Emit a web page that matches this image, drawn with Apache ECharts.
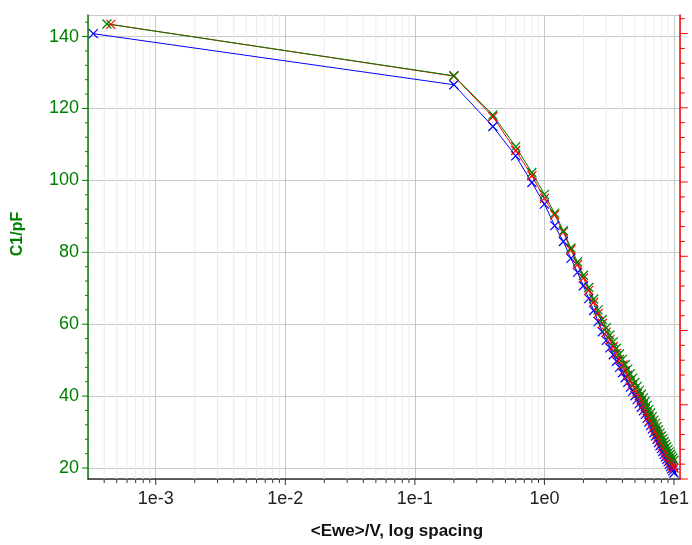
<!DOCTYPE html>
<html>
<head>
<meta charset="utf-8">
<script src="https://cdn.jsdelivr.net/npm/echarts@6/dist/echarts.min.js"></script>
<style>
  html, body { margin: 0; padding: 0; background: #fff; }
  #chart { width: 692px; height: 545px; }
</style>
</head>
<body>
<div id="chart"></div>
<script>
// potential steps (V) shared by the three sweeps
var potential = [0.2, 0.4, 0.6, 0.8, 1.0, 1.2, 1.4, 1.6, 1.8, 2.0,
  2.2, 2.4, 2.6, 2.8, 3.0, 3.2, 3.4, 3.6, 3.8, 4.0,
  4.2, 4.4, 4.6, 4.8, 5.0, 5.2, 5.4, 5.6, 5.8, 6.0,
  6.2, 6.4, 6.6, 6.8, 7.0, 7.2, 7.4, 7.6, 7.8, 8.0,
  8.2, 8.4, 8.6, 8.8, 9.0, 9.2, 9.4, 9.6, 9.8, 10.0]

// first point of each sweep sits near 0 V
var greenStart = [4.2e-4, 143.5]
var redStart = [4.5e-4, 143.4]
var blueStart = [3.3e-4, 140.8]

var greenC1 = [129.1, 118.2, 109.4, 102.2, 96.1, 90.9, 86.0, 81.2, 77.3, 73.6,
  70.2, 67.0, 64.0, 61.3, 59.0, 57.0, 55.1, 53.3, 51.7, 50.2,
  48.8, 47.5, 46.2, 45.0, 43.8, 42.7, 41.6, 40.5, 39.5, 38.5,
  37.4, 36.3, 35.3, 34.3, 33.3, 32.4, 31.5, 30.6, 29.7, 28.9,
  28.1, 27.3, 26.6, 25.9, 25.2, 24.5, 23.9, 23.3, 22.7, 22.1]
var redC1 = [129.0, 117.7, 108.3, 101.3, 95.0, 90.4, 85.6, 80.7, 76.6, 72.9,
  69.4, 66.1, 63.0, 60.2, 57.8, 55.7, 53.8, 51.9, 50.2, 48.6,
  47.1, 45.8, 44.4, 43.2, 42.0, 40.8, 39.7, 38.7, 37.6, 36.6,
  35.5, 34.4, 33.4, 32.4, 31.4, 30.5, 29.6, 28.7, 27.8, 27.0,
  26.2, 25.4, 24.6, 23.9, 23.2, 22.5, 21.9, 21.2, 20.6, 20.0]
var blueC1 = [126.6, 115.0, 106.8, 99.4, 93.4, 87.4, 83.0, 78.3, 74.4, 70.7,
  67.1, 63.8, 60.7, 57.9, 55.5, 53.4, 51.5, 49.7, 48.0, 46.5,
  45.1, 43.8, 42.5, 41.3, 40.1, 39.0, 37.9, 36.9, 35.9, 34.9,
  33.8, 32.8, 31.8, 30.8, 29.8, 28.9, 28.0, 27.1, 26.2, 25.4,
  24.6, 23.8, 23.1, 22.4, 21.7, 21.0, 20.4, 19.8, 19.2, 18.6]

// tick positions
var xMajorTicks = [1e-3, 1e-2, 1e-1, 1, 10]
var xMinorTicks = [4e-4, 5e-4, 6e-4, 7e-4, 8e-4, 9e-4,
  2e-3, 3e-3, 4e-3, 5e-3, 6e-3, 7e-3, 8e-3, 9e-3,
  2e-2, 3e-2, 4e-2, 5e-2, 6e-2, 7e-2, 8e-2, 9e-2,
  0.2, 0.3, 0.4, 0.5, 0.6, 0.7, 0.8, 0.9,
  2, 3, 4, 5, 6, 7, 8, 9]
var yMajorTicks = [20, 40, 60, 80, 100, 120, 140]
var yMinorTicks = [24, 28, 32, 36, 44, 48, 52, 56, 64, 68, 72, 76,
  84, 88, 92, 96, 104, 108, 112, 116, 124, 128, 132, 136, 144]
var rightMajorTicks = [0, 1, 2, 3, 4, 5, 6]
var rightMinorTicks = [0.2, 0.4, 0.6, 0.8, 1.2, 1.4, 1.6, 1.8, 2.2, 2.4, 2.6, 2.8,
  3.2, 3.4, 3.6, 3.8, 4.2, 4.4, 4.6, 4.8, 5.2, 5.4, 5.6, 5.8, 6.2]

var green = '#008000'
var red = '#ff0000'
var blue = '#0000ff'
var cross = 'path://M0,0L10,10M10,0L0,10'

function sweep (start, values) {
  var out = [start]
  for (var i = 0; i < potential.length; i++) {
    out.push([potential[i], values[i]])
  }
  return out
}

function lineSeries (name, color, data) {
  return {
    name: name,
    type: 'line',
    data: data,
    symbol: cross,
    symbolSize: 9,
    lineStyle: {color: color, width: 1},
    itemStyle: {color: color, borderColor: color, borderWidth: 1.2},
    z: 3
  }
}

// ticks along the bottom axis (minor ones also get a light grid line)
function xTicks (values, len, withGrid) {
  return {
    type: 'custom',
    silent: true,
    z: 1,
    data: values.map(function (v) { return [v, 50] }),
    renderItem: function (params, api) {
      var cs = params.coordSys
      var px = api.coord([api.value(0), api.value(1)])[0]
      var bottom = cs.y + cs.height
      var kids = []
      if (withGrid) {
        kids.push({type: 'line', shape: {x1: px, y1: cs.y, x2: px, y2: bottom},
          style: {stroke: '#ebebeb', lineWidth: 1}})
      }
      kids.push({type: 'line', shape: {x1: px, y1: bottom, x2: px, y2: bottom + len},
        style: {stroke: '#333', lineWidth: 1}})
      return {type: 'group', children: kids}
    }
  }
}

// ticks on a vertical axis, side = -1 left, 1 right
function yTicks (values, len, color, axisIndex, side) {
  return {
    type: 'custom',
    silent: true,
    z: 4,
    yAxisIndex: axisIndex,
    data: values.map(function (v) { return [1, v] }),
    renderItem: function (params, api) {
      var cs = params.coordSys
      var py = api.coord([api.value(0), api.value(1)])[1]
      var x0 = side < 0 ? cs.x : cs.x + cs.width
      return {type: 'line', shape: {x1: x0, y1: py, x2: x0 + side * len, y2: py},
        style: {stroke: color, lineWidth: 1}}
    }
  }
}

var option = {
  animation: false,
  textStyle: {fontFamily: 'Liberation Sans, Arial, sans-serif'},
  grid: {left: 88, right: 12, top: 15, bottom: 66},
  xAxis: {
    type: 'log',
    logBase: 10,
    min: 3e-4,
    max: 11.1,
    splitNumber: 5,
    axisLine: {lineStyle: {color: '#333', width: 1.5}},
    axisTick: {show: false},
    axisLabel: {
      color: '#222',
      fontSize: 18,
      margin: 11,
      formatter: function (v) {
        var e = Math.log(v) / Math.LN10
        if (Math.abs(e - Math.round(e)) > 1e-6) return ''
        return '1e' + Math.round(e)
      }
    },
    splitLine: {show: true, lineStyle: {color: '#c8c8c8'}},
    name: '<Ewe>/V, log spacing',
    nameLocation: 'middle',
    nameGap: 44,
    nameTextStyle: {color: '#111', fontSize: 17, fontWeight: 'bold', padding: [0, 0, 0, 26]}
  },
  yAxis: [
    {
      type: 'value',
      min: 16.94,
      max: 146,
      splitNumber: 6,
      axisLine: {show: true, lineStyle: {color: green, width: 1.5}},
      axisTick: {show: false},
      axisLabel: {
        color: green,
        fontSize: 18,
        margin: 9,
        formatter: function (v) { return v % 20 === 0 ? String(v) : '' }
      },
      splitLine: {lineStyle: {color: '#c8c8c8'}},
      name: 'C1/pF',
      nameLocation: 'middle',
      nameGap: 62,
      nameTextStyle: {color: green, fontSize: 16, fontWeight: 'bold', padding: [0, 0, 0, 26]}
    },
    {
      type: 'value',
      position: 'right',
      min: 0,
      max: 6.25,
      axisLine: {show: true, lineStyle: {color: red, width: 1.5}},
      axisTick: {show: false},
      axisLabel: {show: false},
      splitLine: {show: false}
    }
  ],
  series: [
    xTicks(xMinorTicks, 4, true),
    xTicks(xMajorTicks, 6, false),
    yTicks(yMinorTicks, 3, green, 0, -1),
    yTicks(yMajorTicks, 6, green, 0, -1),
    yTicks(rightMinorTicks, 5, red, 1, 1),
    yTicks(rightMajorTicks, 8, red, 1, 1),
    lineSeries('blue', blue, sweep(blueStart, blueC1)),
    lineSeries('red', red, sweep(redStart, redC1)),
    lineSeries('green', green, sweep(greenStart, greenC1))
  ]
}

var myChart = echarts.init(document.getElementById('chart'))
myChart.setOption(option)
</script>
</body>
</html>
